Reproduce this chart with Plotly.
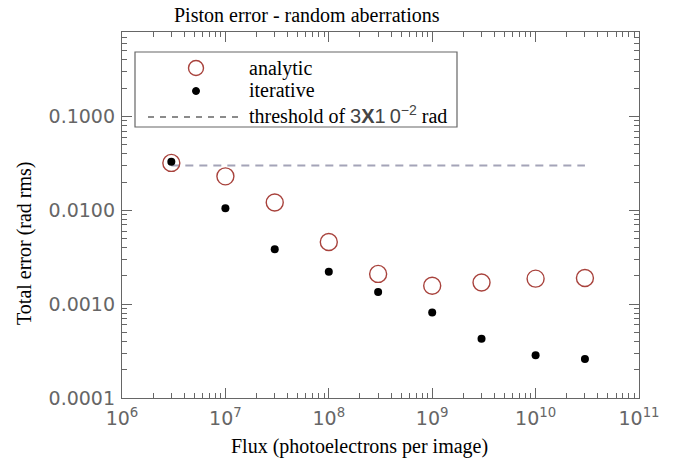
import plotly.graph_objects as go

# ---- data ----
flux = [3e6, 1e7, 3e7, 1e8, 3e8, 1e9, 3e9, 1e10, 3e10]
analytic = [0.032, 0.023, 0.0121, 0.0046, 0.0021, 0.00157, 0.0017, 0.00187, 0.0019]
iterative = [0.033, 0.0105, 0.00385, 0.00222, 0.00135, 0.000815, 0.000427, 0.000286, 0.00026]
threshold_x = [3e6, 3e10]
threshold_value = 0.03

x_tickvals = [1e6, 1e7, 1e8, 1e9, 1e10, 1e11]
x_ticktext = ["10<sup>6</sup>", "10<sup>7</sup>", "10<sup>8</sup>", "10<sup>9</sup>",
              "10<sup>10</sup>", "10<sup>11</sup>"]
y_tickvals = [1e-4, 1e-3, 1e-2, 1e-1]
y_ticktext = ["0.0001", "0.0010", "0.0100", "0.1000"]

W, H = 678, 464
L, R, T, B = 122, 39, 32, 66
pw, ph = W - L - R, H - T - B

def px(x):
    return (x - L) / pw

def py(y):
    return (H - B - y) / ph

SERIF = "Liberation Serif"
SANS = "DejaVu Sans"
RED = "#a8423c"
AXC = "#666666"

fig = go.Figure()
fig.add_trace(go.Scatter(
    x=threshold_x, y=[threshold_value] * len(threshold_x), mode="lines",
    line=dict(color="#a4a4b8", width=2, dash="8px,6px"), showlegend=False))
fig.add_trace(go.Scatter(
    x=flux, y=analytic, mode="markers",
    marker=dict(symbol="circle-open", size=17, color=RED, line=dict(width=1.4, color=RED)),
    showlegend=False))
fig.add_trace(go.Scatter(
    x=flux, y=iterative, mode="markers",
    marker=dict(symbol="circle", size=8, color="black"), showlegend=False))

minor_x = [m * 10 ** e for e in range(6, 11) for m in range(2, 10)]
minor_y = [m * 10 ** e for e in range(-4, 0) for m in range(2, 10)]

axis_common = dict(type="log", showgrid=False, zeroline=False, showline=True, automargin=False,
                   linecolor=AXC, linewidth=1.3, mirror="allticks", ticks="inside",
                   ticklen=10, tickwidth=1, tickcolor=AXC, tickmode="array",
                   tickfont=dict(family=SANS, size=19, color="#666666"))

fig.update_xaxes(**axis_common, range=[6, 11], tickvals=x_tickvals, ticktext=x_ticktext,
                 ticklabelstandoff=3,
                 minor=dict(tickvals=minor_x, ticks="inside", ticklen=5, tickcolor=AXC, showgrid=False))
fig.update_yaxes(**axis_common, range=[-4, -0.1], tickvals=y_tickvals, ticktext=y_ticktext,
                 ticklabelstandoff=2,
                 minor=dict(tickvals=minor_y, ticks="inside", ticklen=5, tickcolor=AXC, showgrid=False))

annotations = [
    dict(text="Piston error - random aberrations", x=px(307), y=py(15), xref="paper", yref="paper",
         showarrow=False, font=dict(family=SERIF, size=20, color="black"), xanchor="center", yanchor="middle"),
    dict(text="Flux (photoelectrons per image)", x=px(359), y=py(446), xref="paper", yref="paper",
         showarrow=False, font=dict(family=SERIF, size=20, color="black"), xanchor="center", yanchor="middle"),
    dict(text="Total error (rad rms)", x=px(24), y=py(243), xref="paper", yref="paper",
         showarrow=False, textangle=-90, font=dict(family=SERIF, size=20, color="black"),
         xanchor="center", yanchor="middle"),
    # legend text
    dict(text="analytic", x=px(247), y=py(68), xref="paper", yref="paper", showarrow=False,
         font=dict(family=SERIF, size=20, color="black"), xanchor="left", yanchor="middle"),
    dict(text="iterative", x=px(247), y=py(90), xref="paper", yref="paper", showarrow=False,
         font=dict(family=SERIF, size=20, color="black"), xanchor="left", yanchor="middle"),
    dict(text="threshold of <span style='font-family:Liberation Sans;font-size:20px;color:#444'>3<b>X</b>1\u20090<sup>−2</sup></span> rad",
         x=px(247), y=py(114), xref="paper", yref="paper", showarrow=False,
         font=dict(family=SERIF, size=20, color="black"), xanchor="left", yanchor="middle"),
]

shapes = [
    dict(type="rect", xref="paper", yref="paper", x0=px(135), x1=px(457), y0=py(52), y1=py(127),
         line=dict(color=AXC, width=1.2), fillcolor="white", layer="below"),
    dict(type="circle", xref="paper", yref="paper", x0=px(188.5), x1=px(203.5), y0=py(60.5), y1=py(75.5),
         line=dict(color=RED, width=1.4)),
    dict(type="circle", xref="paper", yref="paper", x0=px(192.5), x1=px(199.5), y0=py(87.5), y1=py(94.5),
         line=dict(color="black", width=1), fillcolor="black"),
    dict(type="line", xref="paper", yref="paper", x0=px(148), x1=px(240), y0=py(117), y1=py(117),
         line=dict(color="#666666", width=1.3, dash="6px,6px")),
]

fig.update_layout(
    width=W, height=H, margin=dict(l=L, r=R, t=T, b=B),
    paper_bgcolor="white", plot_bgcolor="white",
    showlegend=False, annotations=annotations, shapes=shapes,
)

fig.write_html("out.html", config={"displayModeBar": False},
               post_script="document.body.style.margin='0px';document.body.style.overflow='hidden';")
